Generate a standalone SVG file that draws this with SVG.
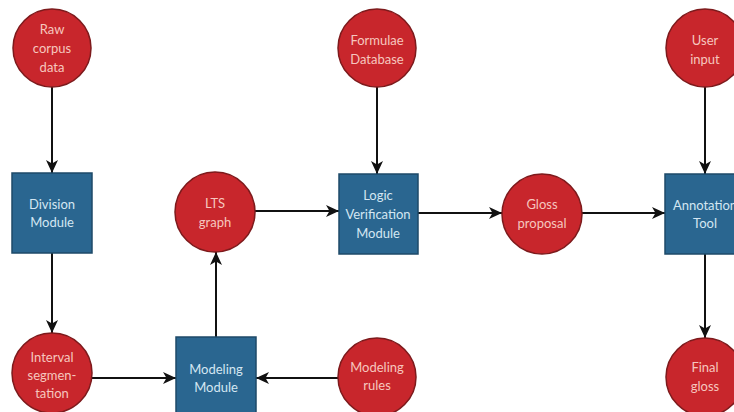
<svg xmlns="http://www.w3.org/2000/svg" width="734" height="412" viewBox="0 0 734 412">
<defs>
<style>
.c{fill:#c8262c;stroke:#7d1a1c;stroke-width:1.5}
.b{fill:#2a6690;stroke:#1e4a68;stroke-width:1.5}
.ct{font-family:Lato,"Liberation Sans",sans-serif;font-size:13px;fill:#f6c6bf;text-anchor:middle}
.bt{font-family:Lato,"Liberation Sans",sans-serif;font-size:13px;fill:#d4e6f2;text-anchor:middle}
.e{stroke:#111;stroke-width:2;fill:none;marker-end:url(#ah)}
</style>
<marker id="ah" markerUnits="userSpaceOnUse" markerWidth="14" markerHeight="12" refX="13" refY="6" orient="auto">
<path d="M0,0 L13,6 L0,12 L3.5,6 z" fill="#111"/>
</marker>
</defs>
<rect width="734" height="412" fill="#fff"/>
<g id="connectors">
<path class="e" d="M52,87 L52,173"/>
<path class="e" d="M52,253 L52,333"/>
<path class="e" d="M92,378 L176,378"/>
<path class="e" d="M338,378 L256,378"/>
<path class="e" d="M216,337 L216,252"/>
<path class="e" d="M255,211 L339,211"/>
<path class="e" d="M377,87 L377,174"/>
<path class="e" d="M418,213 L502,213"/>
<path class="e" d="M582,213 L665,213"/>
<path class="e" d="M705,87 L705,174"/>
<path class="e" d="M705,254 L705,338"/>
</g>
<g id="raw-corpus"><circle class="c" cx="52" cy="48" r="39"/><text class="ct" x="52" y="34">Raw</text><text class="ct" x="52" y="53">corpus</text><text class="ct" x="52" y="72">data</text></g>
<g id="formulae-db"><circle class="c" cx="377" cy="48" r="39"/><text class="ct" x="377" y="45">Formulae</text><text class="ct" x="377" y="64">Database</text></g>
<g id="user-input"><circle class="c" cx="705" cy="48" r="39"/><text class="ct" x="705" y="45">User</text><text class="ct" x="705" y="64">input</text></g>
<g id="division-module"><rect class="b" x="12" y="173" width="80" height="80"/><text class="bt" x="52" y="209">Division</text><text class="bt" x="52" y="227">Module</text></g>
<g id="lts-graph"><circle class="c" cx="215" cy="212" r="40"/><text class="ct" x="215" y="208">LTS</text><text class="ct" x="215" y="227">graph</text></g>
<g id="logic-verification"><rect class="b" x="339" y="174" width="79" height="80"/><text class="bt" x="378" y="200">Logic</text><text class="bt" x="378" y="219">Verification</text><text class="bt" x="378" y="238">Module</text></g>
<g id="gloss-proposal"><circle class="c" cx="542" cy="214" r="40"/><text class="ct" x="542" y="209">Gloss</text><text class="ct" x="542" y="228">proposal</text></g>
<g id="annotation-tool"><rect class="b" x="665" y="174" width="80" height="80"/><text class="bt" x="705" y="210">Annotation</text><text class="bt" x="705" y="228">Tool</text></g>
<g id="interval-segmentation"><circle class="c" cx="52" cy="373" r="40"/><text class="ct" x="52" y="362">Interval</text><text class="ct" x="52" y="380">segmen-</text><text class="ct" x="52" y="398">tation</text></g>
<g id="modeling-module"><rect class="b" x="176" y="337" width="80" height="80"/><text class="bt" x="216" y="374">Modeling</text><text class="bt" x="216" y="392">Module</text></g>
<g id="modeling-rules"><circle class="c" cx="377" cy="377" r="39"/><text class="ct" x="377" y="372">Modeling</text><text class="ct" x="377" y="390">rules</text></g>
<g id="final-gloss"><circle class="c" cx="705" cy="377" r="39"/><text class="ct" x="705" y="372">Final</text><text class="ct" x="705" y="391">gloss</text></g>
</svg>
